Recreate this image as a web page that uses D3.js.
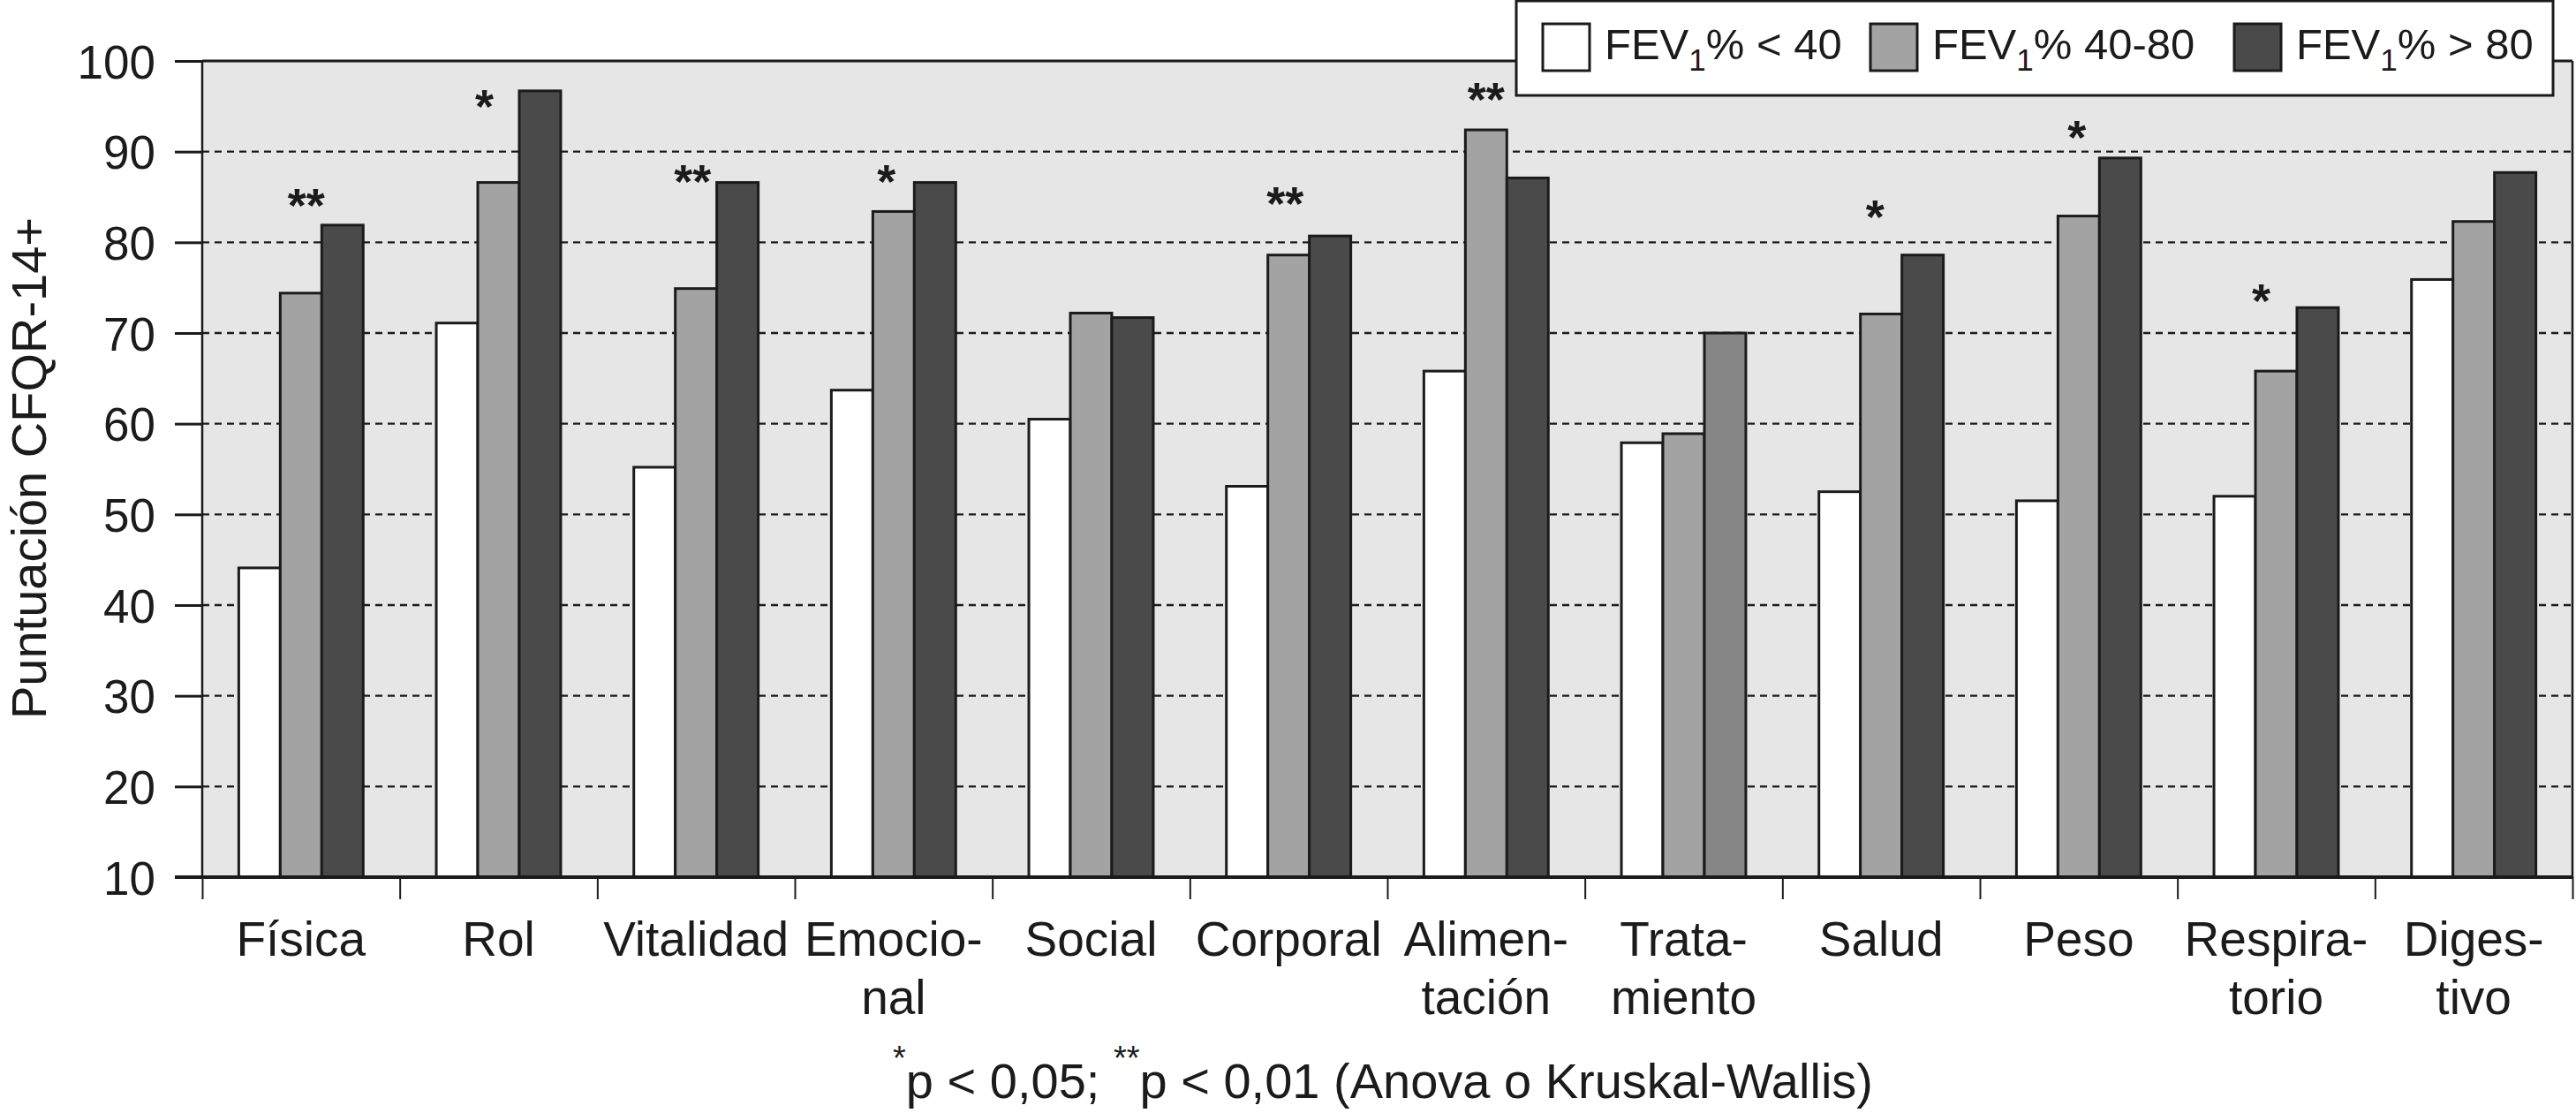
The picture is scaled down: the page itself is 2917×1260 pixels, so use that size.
<!DOCTYPE html>
<html>
<head>
<meta charset="utf-8">
<script src="https://cdn.jsdelivr.net/npm/d3@7"></script>
<style>
  html, body { margin: 0; padding: 0; background: #fff; }
  svg { display: block; font-family: "Liberation Sans", Arial, Helvetica, sans-serif; }
</style>
</head>
<body>
<svg id="chart" width="2917" height="1260"></svg>
<script>
// ---------------- data ----------------
const categories = ["Física","Rol","Vitalidad","Emocional","Social","Corporal","Alimentación","Tratamiento","Salud","Peso","Respiratorio","Digestivo"];
const categoryLabels = [["Física"],["Rol"],["Vitalidad"],["Emocio-","nal"],["Social"],["Corporal"],["Alimen-","tación"],["Trata-","miento"],["Salud"],["Peso"],["Respira-","torio"],["Diges-","tivo"]];
const seriesNames = ["FEV1% < 40","FEV1% 40-80","FEV1% > 80"];
const fevLow  = [44.1, 71.1, 55.2, 63.7, 60.5, 53.1, 65.8, 57.9, 52.5, 51.5, 52.0, 75.9];
const fevMid  = [74.4, 86.6, 74.9, 83.4, 72.2, 78.6, 92.4, 58.9, 72.1, 82.9, 65.8, 82.3];
const fevHigh = [81.9, 96.7, 86.6, 86.6, 71.7, 80.7, 87.1, 70.0, 78.6, 89.3, 72.8, 87.7];
const significance = ["**","*","**","*","","**","**","","*","*","*",""];
const significanceLevel = [85.3, 96.2, 87.9, 87.9, null, 85.5, 97.0, null, 84.0, 92.8, 74.8, null];
const yTicks = [10,20,30,40,50,60,70,80,90,100];
const yTitle = "Puntuación CFQR-14+";

// ---------------- styles / layout ----------------
const W = 2917, H = 1260;
const plot = {left: 229, right: 2913, top: 69, bottom: 993};
const seriesColors = ["#ffffff", "#a3a3a3", "#4a4a4a"];
const colorOverride = {"Tratamiento|2": "#868686"};
const starDx = [6, -16, -4, -8, 0, -4, 0, 0, -7, -2, -17, 0];
const ink = "#1b1b1b";
const font = "'Liberation Sans', Arial, Helvetica, sans-serif";

const svg = d3.select("#chart");
const series = [fevLow, fevMid, fevHigh];

const y = d3.scaleLinear().domain([10, 100]).range([plot.bottom, plot.top]);
const x0 = d3.scaleBand().domain(categories).range([plot.left, plot.right]).padding(0);
const groupW = x0.bandwidth() * 0.63;
const x1 = d3.scaleBand().domain(d3.range(series.length)).range([-groupW/2, groupW/2]).padding(0);

// background
svg.append("rect").attr("x", plot.left).attr("y", plot.top)
  .attr("width", plot.right - plot.left).attr("height", plot.bottom - plot.top)
  .attr("fill", "#e6e6e6");

// dashed gridlines
svg.append("g").selectAll("line").data(yTicks.filter(t => t > 10 && t < 100)).join("line")
  .attr("x1", plot.left).attr("x2", plot.right)
  .attr("y1", d => y(d)).attr("y2", d => y(d))
  .attr("stroke", ink).attr("stroke-width", 2.4).attr("stroke-dasharray", "8 6");

// bars
const rows = [];
categories.forEach((c, i) => series.forEach((s, j) => rows.push({c, i, j, v: s[i]})));
svg.append("g").selectAll("rect").data(rows).join("rect")
  .attr("x", d => x0(d.c) + x0.bandwidth()/2 + x1(d.j))
  .attr("width", x1.bandwidth())
  .attr("y", d => y(d.v))
  .attr("height", d => y(10) - y(d.v))
  .attr("fill", d => colorOverride[d.c + "|" + d.j] || seriesColors[d.j])
  .attr("stroke", ink).attr("stroke-width", 3);

// frame: left & right thin, top thick
svg.append("line").attr("x1", plot.left).attr("x2", plot.left).attr("y1", plot.top).attr("y2", plot.bottom)
  .attr("stroke", ink).attr("stroke-width", 2.5);
svg.append("line").attr("x1", plot.right).attr("x2", plot.right).attr("y1", plot.top).attr("y2", plot.bottom)
  .attr("stroke", ink).attr("stroke-width", 2.5);
svg.append("line").attr("x1", plot.left).attr("x2", plot.right).attr("y1", plot.top).attr("y2", plot.top)
  .attr("stroke", ink).attr("stroke-width", 3);

// y axis
const yAxis = svg.append("g").attr("transform", `translate(${plot.left},0)`)
  .call(d3.axisLeft(y).tickValues(yTicks).tickSize(31).tickPadding(22).tickSizeOuter(0));
yAxis.select(".domain").remove();
yAxis.selectAll(".tick line").attr("stroke", ink).attr("stroke-width", 3);
yAxis.selectAll(".tick text").attr("font-family", font).attr("font-size", 53).attr("fill", ink)
  .attr("dy", "0.36em");

// x axis: ticks at band boundaries
const xb = d3.scaleLinear().domain([0, categories.length]).range([plot.left, plot.right]);
const xAxis = svg.append("g").attr("transform", `translate(0,${plot.bottom})`)
  .call(d3.axisBottom(xb).tickValues(d3.range(categories.length + 1)).tickSize(25).tickFormat(""));
xAxis.select(".domain").remove();
xAxis.selectAll(".tick line").attr("stroke", ink).attr("stroke-width", 2);
svg.append("line").attr("x1", plot.left - 31).attr("x2", plot.right)
  .attr("y1", plot.bottom).attr("y2", plot.bottom).attr("stroke", ink).attr("stroke-width", 4);

// category labels
const lab = svg.append("g").selectAll("text").data(categories).join("text")
  .attr("x", d => x0(d) + x0.bandwidth()/2)
  .attr("y", 1082)
  .attr("text-anchor", "middle").attr("font-family", font).attr("font-size", 55).attr("fill", ink);
lab.selectAll("tspan").data((d, i) => categoryLabels[i].map((t, k) => ({t, k}))).join("tspan")
  .attr("x", function() { return d3.select(this.parentNode).attr("x"); })
  .attr("dy", d => d.k === 0 ? 0 : 66)
  .text(d => d.t);

// significance markers
svg.append("g").selectAll("text").data(categories.map((c, i) => ({c, i})).filter(d => significance[d.i]))
  .join("text")
  .attr("x", d => x0(d.c) + x0.bandwidth()/2 + starDx[d.i])
  .attr("y", d => y(significanceLevel[d.i]) + 31)
  .attr("text-anchor", "middle").attr("font-family", font).attr("font-size", 54)
  .attr("font-weight", "bold").attr("fill", ink)
  .text(d => significance[d.i]);

// y title
svg.append("text").attr("transform", `translate(52,530) rotate(-90)`)
  .attr("text-anchor", "middle").attr("font-family", font).attr("font-size", 56).attr("fill", ink)
  .text(yTitle);

// footnote
const foot = svg.append("text").attr("x", 1566).attr("y", 1243).attr("text-anchor", "middle")
  .attr("font-family", font).attr("font-size", 56).attr("fill", ink);
foot.append("tspan").attr("font-size", 38).attr("dy", -32).text("*");
foot.append("tspan").attr("dy", 32).text("p < 0,05; ");
foot.append("tspan").attr("font-size", 38).attr("dy", -32).text("**");
foot.append("tspan").attr("dy", 32).text("p < 0,01 (Anova o Kruskal-Wallis)");

// legend
const lg = svg.append("g");
lg.append("rect").attr("x", 1717).attr("y", 1).attr("width", 2891 - 1717).attr("height", 107)
  .attr("fill", "#fff").attr("stroke", ink).attr("stroke-width", 3);
const legendX = [1747, 2118, 2530];
seriesNames.forEach((name, j) => {
  lg.append("rect").attr("x", legendX[j]).attr("y", 27).attr("width", 53).attr("height", 53)
    .attr("fill", seriesColors[j]).attr("stroke", ink).attr("stroke-width", 3);
  const parts = name.split("1%");
  const t = lg.append("text").attr("x", legendX[j] + 70).attr("y", 67)
    .attr("font-family", font).attr("font-size", 49).attr("fill", ink);
  t.append("tspan").text(parts[0]);
  t.append("tspan").attr("font-size", 35).attr("dy", 13).text("1");
  t.append("tspan").attr("dy", -13).text("%" + parts[1]);
});
</script>
</body>
</html>
